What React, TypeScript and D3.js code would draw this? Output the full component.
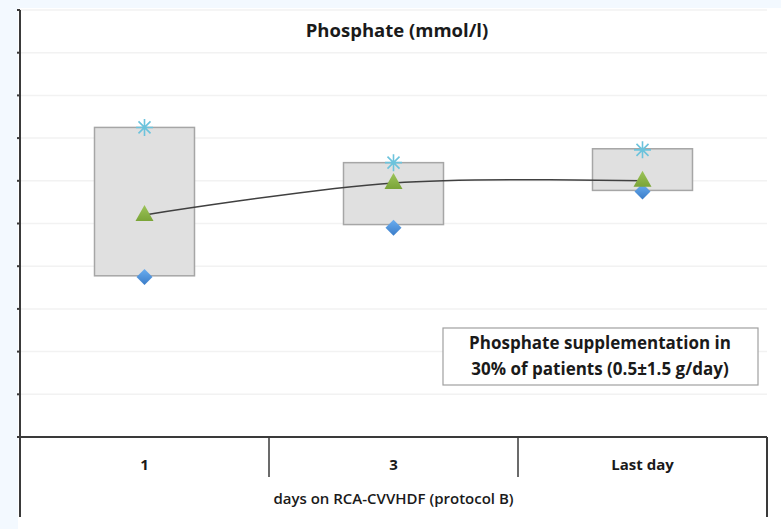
import * as d3 from "d3";

// categories on the x axis
const days = ["1", "3", "Last day"];

// values (mmol/l)
const boxHigh = [1.45, 1.285, 1.35];
const boxLow = [0.755, 0.995, 1.155];
const starVals = [1.45, 1.285, 1.345];
const diamondVals = [0.75, 0.98, 1.15];
const triangleVals = [1.04, 1.19, 1.2];

const yTicks = d3.range(0, 2.01, 0.2);

const W = 781;
const H = 529;
const FONT = "'Open Sans', Lato, sans-serif";

export default function App() {
    const left = 20;
    const right = 767;
    const top = 10;
    const bottom = 437;

    const x = d3.scaleBand<string>().domain(days).range([left, right]);
    const y = d3.scaleLinear().domain([0, 2]).range([bottom, top]);
    const cx = (d: string) => (x(d) ?? 0) + x.bandwidth() / 2;
    const boxW = 100;

    const line = d3
        .line<number>()
        .x((_, i) => cx(days[i]))
        .y((v) => y(v))
        .curve(d3.curveCatmullRom.alpha(0));

    const star = (px: number, py: number, r: number) => {
        const segs = [0, 45, 90, 135].map((a) => {
            const t = (a * Math.PI) / 180;
            const dx = Math.cos(t) * r;
            const dy = Math.sin(t) * r;
            return `M${px - dx},${py - dy}L${px + dx},${py + dy}`;
        });
        return segs.join("");
    };

    return (
        <svg
            width={W}
            height={H}
            style={{ position: "absolute", left: 0, top: 0 }}
            fontFamily={FONT}
        >
            <defs>
                <linearGradient id="tri" x1="0" y1="0" x2="0" y2="1">
                    <stop offset="0%" stopColor="#9dc45a" />
                    <stop offset="100%" stopColor="#7aa437" />
                </linearGradient>
                <linearGradient id="dia" x1="0" y1="0" x2="0" y2="1">
                    <stop offset="0%" stopColor="#6aaef0" />
                    <stop offset="100%" stopColor="#3a7cc8" />
                </linearGradient>
            </defs>
            <rect width={W} height={H} fill="#f3f9ff" />
            <rect x={18} y={8} width={W - 18} height={H - 8} fill="#ffffff" />

            {/* gridlines */}
            {yTicks.map((t) => (
                <line
                    key={"g" + t}
                    x1={left}
                    x2={right}
                    y1={y(t)}
                    y2={y(t)}
                    stroke="#f2f2f2"
                    strokeWidth={1.5}
                />
            ))}

            {/* title */}
            <text
                x={397}
                y={37}
                textAnchor="middle"
                fontSize={18.5}
                fontWeight="bold"
                fill="#1a1a1a"
            >
                Phosphate (mmol/l)
            </text>

            {/* boxes */}
            {days.map((d, i) => (
                <rect
                    key={"b" + d}
                    x={cx(d) - boxW / 2}
                    y={y(boxHigh[i])}
                    width={boxW}
                    height={y(boxLow[i]) - y(boxHigh[i])}
                    fill="#e0e0e0"
                    stroke="#a6a6a6"
                    strokeWidth={1.5}
                />
            ))}

            {/* smoothed line through triangles */}
            <path
                d={line(triangleVals) ?? ""}
                fill="none"
                stroke="#404040"
                strokeWidth={1.5}
            />

            {/* diamonds */}
            {days.map((d, i) => {
                const px = cx(d);
                const py = y(diamondVals[i]);
                const r = 8;
                return (
                    <path
                        key={"d" + d}
                        d={`M${px},${py - r}L${px + r},${py}L${px},${py + r}L${px - r},${py}Z`}
                        fill="url(#dia)"
                    />
                );
            })}

            {/* triangles */}
            {days.map((d, i) => {
                const px = cx(d);
                const py = y(triangleVals[i]);
                return (
                    <path
                        key={"t" + d}
                        d={`M${px},${py - 10}L${px + 9},${py + 6}L${px - 9},${py + 6}Z`}
                        fill="url(#tri)"
                    />
                );
            })}

            {/* asterisks */}
            {days.map((d, i) => (
                <path
                    key={"s" + d}
                    d={star(cx(d), y(starVals[i]), 8.5)}
                    stroke="#6cc3dc"
                    strokeWidth={1.6}
                    fill="none"
                />
            ))}

            {/* note box */}
            <rect
                x={443}
                y={328}
                width={315}
                height={57}
                fill="#ffffff"
                stroke="#a0a0a0"
                strokeWidth={1.2}
            />
            <text
                x={600}
                y={349}
                textAnchor="middle"
                fontSize={17}
                fontWeight="bold"
                fill="#1a1a1a"
            >
                Phosphate supplementation in
            </text>
            <text
                x={600}
                y={375}
                textAnchor="middle"
                fontSize={17}
                fontWeight="bold"
                fill="#1a1a1a"
            >
                30% of patients (0.5±1.5 g/day)
            </text>

            {/* y axis with outside ticks */}
            <line x1={left} x2={left} y1={top} y2={517} stroke="#3a3a3a" strokeWidth={2} />
            {yTicks.map((t) => (
                <line
                    key={"t" + t}
                    x1={left - 3}
                    x2={left}
                    y1={y(t)}
                    y2={y(t)}
                    stroke="#3a3a3a"
                    strokeWidth={2}
                />
            ))}

            {/* x axis and category table frame */}
            <line x1={left} x2={right} y1={bottom} y2={bottom} stroke="#3a3a3a" strokeWidth={2} />
            <line x1={right} x2={right} y1={bottom} y2={517} stroke="#3a3a3a" strokeWidth={2} />
            {days.slice(1).map((d) => (
                <line
                    key={"div" + d}
                    x1={x(d) ?? 0}
                    x2={x(d) ?? 0}
                    y1={bottom}
                    y2={477}
                    stroke="#3a3a3a"
                    strokeWidth={1.5}
                />
            ))}
            {days.map((d) => (
                <text
                    key={"l" + d}
                    x={cx(d)}
                    y={470}
                    textAnchor="middle"
                    fontSize={15}
                    fontWeight="bold"
                    fill="#1a1a1a"
                >
                    {d}
                </text>
            ))}
            <text
                x={(left + right) / 2}
                y={504}
                textAnchor="middle"
                fontSize={15}
                fontWeight={600}
                fill="#1a1a1a"
            >
                days on RCA-CVVHDF (protocol B)
            </text>
        </svg>
    );
}
